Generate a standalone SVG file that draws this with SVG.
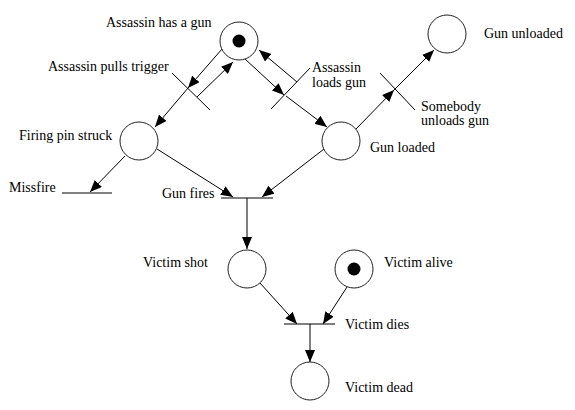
<svg xmlns="http://www.w3.org/2000/svg" width="575" height="410" viewBox="0 0 575 410">
<style>
.place{fill:#fff;stroke:#222;stroke-width:1}
.token{fill:#000}
.trans{stroke:#000;stroke-width:1;fill:none}
.arc{stroke:#000;stroke-width:1;fill:none;marker-end:url(#ah)}
text{font-family:"Liberation Serif","Times New Roman",serif;font-size:14px;fill:#000}
</style>
<defs>
<marker id="ah" markerUnits="userSpaceOnUse" markerWidth="13" markerHeight="10" refX="12" refY="5" orient="auto">
<path d="M0,0 L12,5 L0,10 z" fill="#000"/>
</marker>
</defs>
<rect width="575" height="410" fill="#fff"/>

<g id="connectors">
<line class="arc" x1="222" y1="49" x2="188" y2="88"/>
<line class="arc" x1="188" y1="88" x2="155" y2="127"/>
<line class="arc" x1="197" y1="97" x2="233" y2="62"/>
<line class="arc" x1="245" y1="59" x2="284" y2="95"/>
<line class="arc" x1="286" y1="96" x2="327" y2="127"/>
<line class="arc" x1="297" y1="82" x2="259" y2="50"/>
<line class="arc" x1="356" y1="129" x2="394" y2="90"/>
<line class="arc" x1="394" y1="90" x2="434" y2="50"/>
<line class="arc" x1="125" y1="156" x2="90" y2="192"/>
<line class="arc" x1="157" y1="149" x2="233" y2="197"/>
<line class="arc" x1="324" y1="149" x2="262" y2="197"/>
<line class="arc" x1="247" y1="198" x2="247" y2="249"/>
<line class="arc" x1="260" y1="283" x2="297" y2="324"/>
<line class="arc" x1="347" y1="287" x2="323" y2="324"/>
<line class="arc" x1="310" y1="324" x2="310" y2="362"/>
</g>

<g id="t-pulls-trigger">
<line class="trans" x1="172" y1="73" x2="210" y2="110"/>
<text x="48" y="71">Assassin pulls trigger</text>
</g>
<g id="t-loads-gun">
<line class="trans" x1="271" y1="109" x2="310" y2="68"/>
<text x="312" y="72">Assassin</text>
<text x="312" y="87">loads gun</text>
</g>
<g id="t-unloads-gun">
<line class="trans" x1="380" y1="73" x2="415" y2="110"/>
<text x="421" y="111">Somebody</text>
<text x="421" y="125">unloads gun</text>
</g>
<g id="t-missfire">
<line class="trans" x1="62" y1="193" x2="112" y2="193"/>
<text x="9" y="192">Missfire</text>
</g>
<g id="t-gun-fires">
<line class="trans" x1="221" y1="198" x2="273" y2="198"/>
<text x="162" y="198">Gun fires</text>
</g>
<g id="t-victim-dies">
<line class="trans" x1="284" y1="324" x2="335" y2="324"/>
<text x="345" y="329">Victim dies</text>
</g>

<g id="p-assassin-has-gun">
<circle class="place" cx="239" cy="41" r="19"/>
<circle class="token" cx="239" cy="41" r="6.5"/>
<text x="106" y="27">Assassin has a gun</text>
</g>
<g id="p-firing-pin">
<circle class="place" cx="139" cy="141" r="19"/>
<text x="19" y="140">Firing pin struck</text>
</g>
<g id="p-gun-loaded">
<circle class="place" cx="341" cy="141" r="19"/>
<text x="370" y="152">Gun loaded</text>
</g>
<g id="p-gun-unloaded">
<circle class="place" cx="447" cy="34" r="19"/>
<text x="484" y="38">Gun unloaded</text>
</g>
<g id="p-victim-shot">
<circle class="place" cx="247" cy="269" r="19"/>
<text x="143" y="267">Victim shot</text>
</g>
<g id="p-victim-alive">
<circle class="place" cx="354" cy="269" r="19"/>
<circle class="token" cx="354" cy="269" r="6.5"/>
<text x="384" y="267">Victim alive</text>
</g>
<g id="p-victim-dead">
<circle class="place" cx="310" cy="381" r="19"/>
<text x="345" y="392">Victim dead</text>
</g>
</svg>
